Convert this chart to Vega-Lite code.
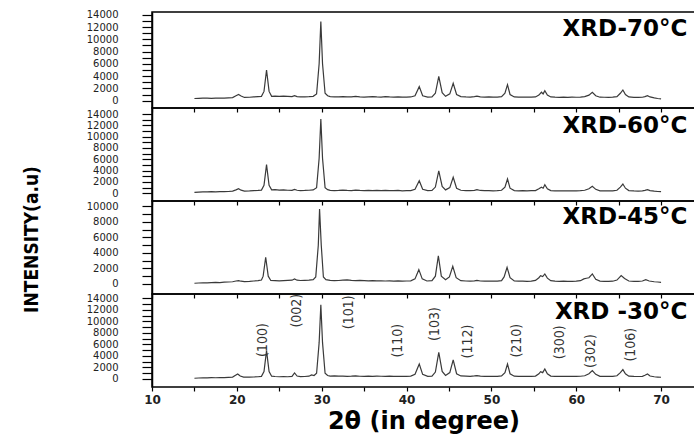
{
  "$schema": "https://vega.github.io/schema/vega-lite/v6.json",
  "padding": {"left": 21, "top": 9, "right": 0, "bottom": 0},
  "spacing": 0,
  "bounds": "flush",
  "config": {
    "view": {"stroke": "black", "strokeWidth": 1.5},
    "axis": {"domainColor": "black", "domainWidth": 1.5, "tickColor": "black", "tickWidth": 1.2, "labelFont": "DejaVu Sans", "labelFontSize": 10, "labelColor": "#222", "grid": false, "labelOverlap": false, "labelFlush": false, "labelBound": false}
  },
  "datasets": {
    "p70": [
      {"x":15.0,"y":350},{"x":15.5,"y":380},{"x":16,"y":400},{"x":16.5,"y":420},{"x":17,"y":380},{"x":17.5,"y":420},{"x":18,"y":430},{"x":18.5,"y":400},{"x":19,"y":450},{"x":19.5,"y":500},{"x":19.9,"y":800},{"x":20.2,"y":1000},{"x":20.5,"y":750},{"x":20.9,"y":520},{"x":21.5,"y":550},{"x":22,"y":600},{"x":22.5,"y":650},{"x":22.9,"y":700},{"x":23.2,"y":1500},{"x":23.5,"y":5000},{"x":23.8,"y":1500},{"x":24.1,"y":700},{"x":24.5,"y":750},{"x":25,"y":700},{"x":25.5,"y":720},{"x":26,"y":680},{"x":26.5,"y":650},{"x":26.8,"y":800},{"x":27.1,"y":650},{"x":27.5,"y":600},{"x":28,"y":620},{"x":28.5,"y":650},{"x":29,"y":700},{"x":29.4,"y":1100},{"x":29.7,"y":6000},{"x":29.9,"y":12900},{"x":30.1,"y":6000},{"x":30.4,"y":1200},{"x":30.7,"y":800},{"x":31,"y":650},{"x":31.5,"y":600},{"x":32,"y":620},{"x":32.5,"y":650},{"x":33,"y":600},{"x":33.5,"y":620},{"x":34,"y":680},{"x":34.5,"y":620},{"x":35,"y":580},{"x":35.5,"y":620},{"x":36,"y":650},{"x":36.5,"y":600},{"x":37,"y":580},{"x":37.5,"y":640},{"x":38,"y":600},{"x":38.5,"y":580},{"x":39,"y":600},{"x":39.5,"y":560},{"x":40,"y":580},{"x":40.5,"y":600},{"x":41,"y":800},{"x":41.5,"y":2280},{"x":41.9,"y":800},{"x":42.5,"y":580},{"x":43,"y":620},{"x":43.4,"y":1200},{"x":43.8,"y":3970},{"x":44.2,"y":1300},{"x":44.6,"y":700},{"x":45.1,"y":1100},{"x":45.5,"y":2830},{"x":45.9,"y":1000},{"x":46.4,"y":650},{"x":47,"y":600},{"x":47.5,"y":580},{"x":48,"y":650},{"x":48.3,"y":720},{"x":48.7,"y":620},{"x":49.2,"y":580},{"x":49.7,"y":600},{"x":50.2,"y":560},{"x":50.7,"y":580},{"x":51.2,"y":650},{"x":51.6,"y":1200},{"x":51.9,"y":2600},{"x":52.2,"y":1000},{"x":52.7,"y":600},{"x":53.2,"y":560},{"x":53.7,"y":580},{"x":54.2,"y":560},{"x":54.7,"y":580},{"x":55.2,"y":600},{"x":55.6,"y":900},{"x":55.9,"y":1370},{"x":56.1,"y":1100},{"x":56.3,"y":1630},{"x":56.6,"y":900},{"x":57,"y":600},{"x":57.5,"y":560},{"x":58,"y":540},{"x":58.5,"y":560},{"x":59,"y":540},{"x":59.5,"y":560},{"x":60,"y":550},{"x":60.5,"y":580},{"x":61,"y":650},{"x":61.5,"y":900},{"x":61.9,"y":1370},{"x":62.3,"y":800},{"x":62.8,"y":560},{"x":63.3,"y":550},{"x":63.8,"y":540},{"x":64.3,"y":560},{"x":64.8,"y":650},{"x":65.2,"y":1200},{"x":65.5,"y":1740},{"x":65.8,"y":1000},{"x":66.2,"y":600},{"x":66.8,"y":540},{"x":67.3,"y":520},{"x":67.8,"y":550},{"x":68.1,"y":650},{"x":68.4,"y":810},{"x":68.7,"y":600},{"x":69.2,"y":450},{"x":69.6,"y":350},{"x":70,"y":280}
    ],
    "p60": [
      {"x":15.0,"y":180},{"x":15.5,"y":220},{"x":16,"y":260},{"x":16.5,"y":240},{"x":17,"y":280},{"x":17.5,"y":260},{"x":18,"y":300},{"x":18.5,"y":280},{"x":19,"y":320},{"x":19.5,"y":380},{"x":19.9,"y":600},{"x":20.2,"y":800},{"x":20.5,"y":550},{"x":20.9,"y":400},{"x":21.5,"y":420},{"x":22,"y":480},{"x":22.5,"y":500},{"x":22.9,"y":560},{"x":23.2,"y":1400},{"x":23.5,"y":5050},{"x":23.8,"y":1400},{"x":24.1,"y":600},{"x":24.5,"y":650},{"x":25,"y":560},{"x":25.5,"y":620},{"x":26,"y":540},{"x":26.5,"y":520},{"x":26.8,"y":700},{"x":27.1,"y":540},{"x":27.5,"y":480},{"x":28,"y":500},{"x":28.5,"y":540},{"x":29,"y":600},{"x":29.4,"y":1000},{"x":29.7,"y":6200},{"x":29.9,"y":13130},{"x":30.1,"y":6200},{"x":30.4,"y":1000},{"x":30.7,"y":650},{"x":31,"y":520},{"x":31.5,"y":480},{"x":32,"y":500},{"x":32.5,"y":560},{"x":33,"y":500},{"x":33.5,"y":480},{"x":34,"y":560},{"x":34.5,"y":500},{"x":35,"y":460},{"x":35.5,"y":520},{"x":36,"y":480},{"x":36.5,"y":500},{"x":37,"y":460},{"x":37.5,"y":520},{"x":38,"y":480},{"x":38.5,"y":460},{"x":39,"y":500},{"x":39.5,"y":440},{"x":40,"y":460},{"x":40.5,"y":480},{"x":41,"y":700},{"x":41.5,"y":2230},{"x":41.9,"y":700},{"x":42.5,"y":480},{"x":43,"y":520},{"x":43.4,"y":1100},{"x":43.8,"y":3940},{"x":44.2,"y":1200},{"x":44.6,"y":600},{"x":45.1,"y":1000},{"x":45.5,"y":2830},{"x":45.9,"y":900},{"x":46.4,"y":540},{"x":47,"y":480},{"x":47.5,"y":460},{"x":48,"y":520},{"x":48.3,"y":640},{"x":48.7,"y":500},{"x":49.2,"y":460},{"x":49.7,"y":480},{"x":50.2,"y":440},{"x":50.7,"y":460},{"x":51.2,"y":540},{"x":51.6,"y":1100},{"x":51.9,"y":2530},{"x":52.2,"y":900},{"x":52.7,"y":480},{"x":53.2,"y":440},{"x":53.7,"y":460},{"x":54.2,"y":440},{"x":54.7,"y":460},{"x":55.2,"y":480},{"x":55.6,"y":800},{"x":55.9,"y":1060},{"x":56.1,"y":900},{"x":56.3,"y":1520},{"x":56.6,"y":800},{"x":57,"y":480},{"x":57.5,"y":440},{"x":58,"y":420},{"x":58.5,"y":440},{"x":59,"y":420},{"x":59.5,"y":440},{"x":60,"y":430},{"x":60.5,"y":460},{"x":61,"y":540},{"x":61.5,"y":800},{"x":61.9,"y":1240},{"x":62.3,"y":700},{"x":62.8,"y":440},{"x":63.3,"y":430},{"x":63.8,"y":420},{"x":64.3,"y":440},{"x":64.8,"y":540},{"x":65.2,"y":1100},{"x":65.5,"y":1640},{"x":65.8,"y":900},{"x":66.2,"y":480},{"x":66.8,"y":420},{"x":67.3,"y":400},{"x":67.8,"y":430},{"x":68.1,"y":520},{"x":68.4,"y":640},{"x":68.7,"y":480},{"x":69.2,"y":380},{"x":69.6,"y":320},{"x":70,"y":280}
    ],
    "p45": [
      {"x":15.0,"y":90},{"x":15.5,"y":120},{"x":16,"y":150},{"x":16.5,"y":130},{"x":17,"y":170},{"x":17.5,"y":200},{"x":18,"y":180},{"x":18.5,"y":220},{"x":19,"y":250},{"x":19.5,"y":280},{"x":19.9,"y":380},{"x":20.2,"y":430},{"x":20.5,"y":350},{"x":20.9,"y":300},{"x":21.5,"y":330},{"x":22,"y":380},{"x":22.5,"y":420},{"x":22.9,"y":500},{"x":23.1,"y":1000},{"x":23.4,"y":3440},{"x":23.7,"y":1000},{"x":24,"y":450},{"x":24.5,"y":420},{"x":25,"y":400},{"x":25.5,"y":430},{"x":26,"y":450},{"x":26.5,"y":480},{"x":26.8,"y":640},{"x":27.1,"y":480},{"x":27.5,"y":440},{"x":28,"y":470},{"x":28.5,"y":500},{"x":29,"y":560},{"x":29.3,"y":900},{"x":29.6,"y":5000},{"x":29.75,"y":9650},{"x":29.95,"y":5000},{"x":30.2,"y":900},{"x":30.5,"y":550},{"x":31,"y":450},{"x":31.5,"y":420},{"x":32,"y":440},{"x":32.5,"y":480},{"x":33,"y":520},{"x":33.5,"y":460},{"x":34,"y":430},{"x":34.5,"y":450},{"x":35,"y":420},{"x":35.5,"y":400},{"x":36,"y":420},{"x":36.5,"y":390},{"x":37,"y":400},{"x":37.5,"y":380},{"x":38,"y":400},{"x":38.5,"y":370},{"x":39,"y":390},{"x":39.5,"y":360},{"x":40,"y":380},{"x":40.5,"y":400},{"x":41,"y":650},{"x":41.45,"y":1840},{"x":41.85,"y":650},{"x":42.4,"y":380},{"x":43,"y":420},{"x":43.4,"y":1000},{"x":43.75,"y":3640},{"x":44.1,"y":1000},{"x":44.6,"y":550},{"x":45.05,"y":900},{"x":45.45,"y":2280},{"x":45.85,"y":800},{"x":46.4,"y":420},{"x":47,"y":380},{"x":47.5,"y":360},{"x":48,"y":400},{"x":48.3,"y":450},{"x":48.7,"y":380},{"x":49.2,"y":360},{"x":49.7,"y":370},{"x":50.2,"y":350},{"x":50.7,"y":360},{"x":51.2,"y":420},{"x":51.5,"y":900},{"x":51.85,"y":2150},{"x":52.2,"y":800},{"x":52.7,"y":380},{"x":53.2,"y":350},{"x":53.7,"y":360},{"x":54.2,"y":340},{"x":54.7,"y":360},{"x":55.2,"y":450},{"x":55.6,"y":800},{"x":55.8,"y":1070},{"x":56.05,"y":950},{"x":56.3,"y":1290},{"x":56.6,"y":750},{"x":57,"y":420},{"x":57.5,"y":360},{"x":58,"y":340},{"x":58.5,"y":350},{"x":59,"y":330},{"x":59.5,"y":340},{"x":60,"y":350},{"x":60.5,"y":420},{"x":60.9,"y":650},{"x":61.2,"y":730},{"x":61.5,"y":800},{"x":61.9,"y":1290},{"x":62.3,"y":600},{"x":62.8,"y":360},{"x":63.3,"y":340},{"x":63.8,"y":330},{"x":64.3,"y":350},{"x":64.8,"y":500},{"x":65.3,"y":1070},{"x":65.7,"y":700},{"x":66.2,"y":380},{"x":66.8,"y":330},{"x":67.3,"y":320},{"x":67.8,"y":380},{"x":68.2,"y":550},{"x":68.6,"y":380},{"x":69.2,"y":280},{"x":69.6,"y":250},{"x":70,"y":210}
    ],
    "p30": [
      {"x":15.0,"y":120},{"x":15.5,"y":160},{"x":16,"y":200},{"x":16.5,"y":180},{"x":17,"y":230},{"x":17.5,"y":210},{"x":18,"y":250},{"x":18.5,"y":240},{"x":19,"y":280},{"x":19.5,"y":330},{"x":19.8,"y":600},{"x":20.1,"y":870},{"x":20.4,"y":500},{"x":20.8,"y":330},{"x":21.5,"y":300},{"x":22,"y":340},{"x":22.5,"y":380},{"x":22.9,"y":450},{"x":23.2,"y":1300},{"x":23.5,"y":4910},{"x":23.8,"y":1300},{"x":24.1,"y":480},{"x":24.5,"y":420},{"x":25,"y":380},{"x":25.5,"y":400},{"x":26,"y":380},{"x":26.5,"y":450},{"x":26.8,"y":1040},{"x":27.1,"y":500},{"x":27.5,"y":400},{"x":28,"y":420},{"x":28.5,"y":480},{"x":28.8,"y":700},{"x":29.1,"y":600},{"x":29.4,"y":1000},{"x":29.7,"y":6300},{"x":29.9,"y":12900},{"x":30.1,"y":6300},{"x":30.4,"y":1000},{"x":30.7,"y":600},{"x":31,"y":480},{"x":31.5,"y":520},{"x":32,"y":480},{"x":32.5,"y":500},{"x":33,"y":460},{"x":33.5,"y":480},{"x":34,"y":520},{"x":34.5,"y":470},{"x":35,"y":450},{"x":35.5,"y":480},{"x":36,"y":460},{"x":36.5,"y":500},{"x":37,"y":470},{"x":37.5,"y":450},{"x":38,"y":480},{"x":38.5,"y":460},{"x":39,"y":440},{"x":39.5,"y":460},{"x":40,"y":450},{"x":40.5,"y":480},{"x":41,"y":800},{"x":41.5,"y":2600},{"x":41.9,"y":800},{"x":42.5,"y":460},{"x":43,"y":500},{"x":43.4,"y":1200},{"x":43.8,"y":4630},{"x":44.2,"y":1300},{"x":44.6,"y":600},{"x":45.1,"y":1100},{"x":45.5,"y":3300},{"x":45.9,"y":900},{"x":46.4,"y":520},{"x":47,"y":480},{"x":47.5,"y":460},{"x":48,"y":520},{"x":48.3,"y":580},{"x":48.7,"y":480},{"x":49.2,"y":450},{"x":49.7,"y":470},{"x":50.2,"y":450},{"x":50.7,"y":460},{"x":51.2,"y":520},{"x":51.6,"y":1100},{"x":51.9,"y":2600},{"x":52.2,"y":900},{"x":52.7,"y":480},{"x":53.2,"y":450},{"x":53.7,"y":470},{"x":54.2,"y":440},{"x":54.7,"y":460},{"x":55.2,"y":500},{"x":55.6,"y":900},{"x":55.8,"y":1270},{"x":56.05,"y":1100},{"x":56.3,"y":1740},{"x":56.6,"y":900},{"x":57,"y":500},{"x":57.5,"y":460},{"x":58,"y":440},{"x":58.5,"y":460},{"x":59,"y":440},{"x":59.5,"y":450},{"x":60,"y":440},{"x":60.5,"y":470},{"x":61,"y":550},{"x":61.5,"y":900},{"x":61.9,"y":1450},{"x":62.3,"y":800},{"x":62.8,"y":460},{"x":63.3,"y":440},{"x":63.8,"y":430},{"x":64.3,"y":450},{"x":64.8,"y":550},{"x":65.2,"y":1100},{"x":65.5,"y":1620},{"x":65.8,"y":900},{"x":66.2,"y":480},{"x":66.8,"y":430},{"x":67.3,"y":420},{"x":67.8,"y":460},{"x":68.1,"y":650},{"x":68.4,"y":870},{"x":68.7,"y":500},{"x":69.2,"y":380},{"x":69.6,"y":330},{"x":70,"y":290}
    ],
    "hkl": [
      {"x":23.1,"y":6770,"t":"(100)"},{"x":27.1,"y":11860,"t":"(002)"},{"x":33.2,"y":11580,"t":"(101)"},{"x":39.0,"y":6650,"t":"(110)"},{"x":43.3,"y":9550,"t":"(103)"},{"x":47.3,"y":6510,"t":"(112)"},{"x":53.0,"y":6650,"t":"(210)"},{"x":58.1,"y":6370,"t":"(300)"},{"x":61.7,"y":4860,"t":"(302)"},{"x":66.4,"y":5950,"t":"(106)"}
    ]
  },
  "vconcat": [
    {
      "width": 543, "height": 96,
      "layer": [
        {"data": {"name": "p70"}, "mark": {"type": "line", "color": "#3a3a3a", "strokeWidth": 1.2},
         "encoding": {
           "x": {"field": "x", "type": "quantitative", "scale": {"domain": [10, 74], "nice": false, "zero": false}, "axis": {"values": [10,15,20,25,30,35,40,45,50,55,60,65,70], "labels": false, "domain": false, "tickSize": 4, "title": null}},
           "y": {"field": "y", "type": "quantitative", "scale": {"domain": [-1200, 14450], "nice": false, "zero": false},
                 "axis": {"values": [0,1000,2000,3000,4000,5000,6000,7000,8000,9000,10000,11000,12000,13000,14000], "format": "d", "labelExpr": "datum.value % 2000 === 0 ? datum.label : ''", "labelOverlap": false, "tickSize": 10, "labelPadding": 24, "title": null}}
         }},
        {"data": {"values": [{"x": 73.1, "y": 11680, "t": "XRD-70°C"}]}, "mark": {"type": "text", "align": "right", "baseline": "middle", "font": "DejaVu Sans", "fontWeight": "bold", "fontSize": 23, "color": "black"},
         "encoding": {
           "x": {"field": "x", "type": "quantitative", "scale": {"domain": [10, 74], "nice": false, "zero": false}, "axis": {"values": [10,15,20,25,30,35,40,45,50,55,60,65,70], "labels": false, "domain": false, "tickSize": 4, "title": null}},
           "y": {"field": "y", "type": "quantitative", "scale": {"domain": [-1200, 14450], "nice": false, "zero": false},
                 "axis": {"values": [0,1000,2000,3000,4000,5000,6000,7000,8000,9000,10000,11000,12000,13000,14000], "format": "d", "labelExpr": "datum.value % 2000 === 0 ? datum.label : ''", "labelOverlap": false, "tickSize": 10, "labelPadding": 24, "title": null}},
           "text": {"field": "t"}}}
      ]
    },
    {
      "width": 543, "height": 93,
      "layer": [
        {"data": {"name": "p60"}, "mark": {"type": "line", "color": "#3a3a3a", "strokeWidth": 1.2},
         "encoding": {
           "x": {"field": "x", "type": "quantitative", "scale": {"domain": [10, 74], "nice": false, "zero": false}, "axis": {"values": [10,15,20,25,30,35,40,45,50,55,60,65,70], "labels": false, "domain": false, "tickSize": 4, "title": null}},
           "y": {"field": "y", "type": "quantitative", "scale": {"domain": [-1360, 15060], "nice": false, "zero": false},
                 "axis": {"values": [0,1000,2000,3000,4000,5000,6000,7000,8000,9000,10000,11000,12000,13000,14000], "format": "d", "labelExpr": "datum.value % 2000 === 0 ? datum.label : ''", "labelOverlap": false, "tickSize": 10, "labelPadding": 24, "title": null}}
         }},
        {"data": {"values": [{"x": 73.1, "y": 11940, "t": "XRD-60°C"}]}, "mark": {"type": "text", "align": "right", "baseline": "middle", "font": "DejaVu Sans", "fontWeight": "bold", "fontSize": 23, "color": "black"},
         "encoding": {
           "x": {"field": "x", "type": "quantitative", "scale": {"domain": [10, 74], "nice": false, "zero": false}, "axis": {"values": [10,15,20,25,30,35,40,45,50,55,60,65,70], "labels": false, "domain": false, "tickSize": 4, "title": null}},
           "y": {"field": "y", "type": "quantitative", "scale": {"domain": [-1360, 15060], "nice": false, "zero": false},
                 "axis": {"values": [0,1000,2000,3000,4000,5000,6000,7000,8000,9000,10000,11000,12000,13000,14000], "format": "d", "labelExpr": "datum.value % 2000 === 0 ? datum.label : ''", "labelOverlap": false, "tickSize": 10, "labelPadding": 24, "title": null}},
           "text": {"field": "t"}}}
      ]
    },
    {
      "width": 543, "height": 93,
      "layer": [
        {"data": {"name": "p45"}, "mark": {"type": "line", "color": "#3a3a3a", "strokeWidth": 1.2},
         "encoding": {
           "x": {"field": "x", "type": "quantitative", "scale": {"domain": [10, 74], "nice": false, "zero": false}, "axis": {"values": [10,15,20,25,30,35,40,45,50,55,60,65,70], "labels": false, "domain": false, "tickSize": 4, "title": null}},
           "y": {"field": "y", "type": "quantitative", "scale": {"domain": [-1300, 10700], "nice": false, "zero": false},
                 "axis": {"values": [0,1000,2000,3000,4000,5000,6000,7000,8000,9000,10000], "format": "d", "labelExpr": "datum.value % 2000 === 0 ? datum.label : ''", "labelOverlap": false, "tickSize": 10, "labelPadding": 24,
                          "title": "INTENSITY(a.u)", "titleFont": "Liberation Sans Narrow, DejaVu Sans Condensed, sans-serif", "titleFontWeight": "bold", "titleFontSize": 19, "titleColor": "black", "titleAngle": 270, "titleX": -121, "titleY": 38, "titleAlign": "center", "titleBaseline": "middle"}}
         }},
        {"data": {"values": [{"x": 73.1, "y": 8580, "t": "XRD-45°C"}]}, "mark": {"type": "text", "align": "right", "baseline": "middle", "font": "DejaVu Sans", "fontWeight": "bold", "fontSize": 23, "color": "black"},
         "encoding": {
           "x": {"field": "x", "type": "quantitative", "scale": {"domain": [10, 74], "nice": false, "zero": false}, "axis": {"values": [10,15,20,25,30,35,40,45,50,55,60,65,70], "labels": false, "domain": false, "tickSize": 4, "title": null}},
           "y": {"field": "y", "type": "quantitative", "scale": {"domain": [-1300, 10700], "nice": false, "zero": false},
                 "axis": {"values": [0,1000,2000,3000,4000,5000,6000,7000,8000,9000,10000], "format": "d", "labelExpr": "datum.value % 2000 === 0 ? datum.label : ''", "labelOverlap": false, "tickSize": 10, "labelPadding": 24,
                          "title": "INTENSITY(a.u)", "titleFont": "Liberation Sans Narrow, DejaVu Sans Condensed, sans-serif", "titleFontWeight": "bold", "titleFontSize": 19, "titleColor": "black", "titleAngle": 270, "titleX": -121, "titleY": 38, "titleAlign": "center", "titleBaseline": "middle"}},
           "text": {"field": "t"}}}
      ]
    },
    {
      "width": 543, "height": 93,
      "layer": [
        {"data": {"name": "p30"}, "mark": {"type": "line", "color": "#3a3a3a", "strokeWidth": 1.2},
         "encoding": {
           "x": {"field": "x", "type": "quantitative", "scale": {"domain": [10, 74], "nice": false, "zero": false},
                 "axis": {"values": [10,15,20,25,30,35,40,45,50,55,60,65,70], "labelExpr": "datum.value % 10 === 0 ? datum.label : ''", "labelOverlap": false, "tickSize": 4, "labelFontWeight": "bold", "labelFontSize": 12, "labelColor": "#222", "labelPadding": 3, "domain": false,
                          "title": "2θ (in degree)", "titleFont": "DejaVu Sans", "titleFontSize": 24, "titleFontWeight": "bold", "titleColor": "black", "titleY": 34, "titleBaseline": "middle"}},
           "y": {"field": "y", "type": "quantitative", "scale": {"domain": [-1400, 14750], "nice": false, "zero": false},
                 "axis": {"values": [0,1000,2000,3000,4000,5000,6000,7000,8000,9000,10000,11000,12000,13000,14000], "format": "d", "labelExpr": "datum.value % 2000 === 0 ? datum.label : ''", "labelOverlap": false, "tickSize": 10, "labelPadding": 24, "title": null}}
         }},
        {"data": {"name": "hkl"}, "mark": {"type": "text", "align": "center", "baseline": "middle", "angle": 270, "font": "Liberation Sans Narrow, DejaVu Sans Condensed, sans-serif", "fontSize": 14, "color": "#333"},
         "encoding": {
           "x": {"field": "x", "type": "quantitative", "scale": {"domain": [10, 74], "nice": false, "zero": false},
                 "axis": {"values": [10,15,20,25,30,35,40,45,50,55,60,65,70], "labelExpr": "datum.value % 10 === 0 ? datum.label : ''", "labelOverlap": false, "tickSize": 4, "labelFontWeight": "bold", "labelFontSize": 12, "labelColor": "#222", "labelPadding": 3, "domain": false,
                          "title": "2θ (in degree)", "titleFont": "DejaVu Sans", "titleFontSize": 24, "titleFontWeight": "bold", "titleColor": "black", "titleY": 34, "titleBaseline": "middle"}},
           "y": {"field": "y", "type": "quantitative", "scale": {"domain": [-1400, 14750], "nice": false, "zero": false},
                 "axis": {"values": [0,1000,2000,3000,4000,5000,6000,7000,8000,9000,10000,11000,12000,13000,14000], "format": "d", "labelExpr": "datum.value % 2000 === 0 ? datum.label : ''", "labelOverlap": false, "tickSize": 10, "labelPadding": 24, "title": null}},
           "text": {"field": "t"}
         }},
        {"data": {"values": [{"x": 73.1, "y": 11580, "t": "XRD -30°C"}]}, "mark": {"type": "text", "align": "right", "baseline": "middle", "font": "DejaVu Sans", "fontWeight": "bold", "fontSize": 23, "color": "black"},
         "encoding": {
           "x": {"field": "x", "type": "quantitative", "scale": {"domain": [10, 74], "nice": false, "zero": false},
                 "axis": {"values": [10,15,20,25,30,35,40,45,50,55,60,65,70], "labelExpr": "datum.value % 10 === 0 ? datum.label : ''", "labelOverlap": false, "tickSize": 4, "labelFontWeight": "bold", "labelFontSize": 12, "labelColor": "#222", "labelPadding": 3, "domain": false,
                          "title": "2θ (in degree)", "titleFont": "DejaVu Sans", "titleFontSize": 24, "titleFontWeight": "bold", "titleColor": "black", "titleY": 34, "titleBaseline": "middle"}},
           "y": {"field": "y", "type": "quantitative", "scale": {"domain": [-1400, 14750], "nice": false, "zero": false},
                 "axis": {"values": [0,1000,2000,3000,4000,5000,6000,7000,8000,9000,10000,11000,12000,13000,14000], "format": "d", "labelExpr": "datum.value % 2000 === 0 ? datum.label : ''", "labelOverlap": false, "tickSize": 10, "labelPadding": 24, "title": null}},
           "text": {"field": "t"}}}
      ]
    }
  ]
}
